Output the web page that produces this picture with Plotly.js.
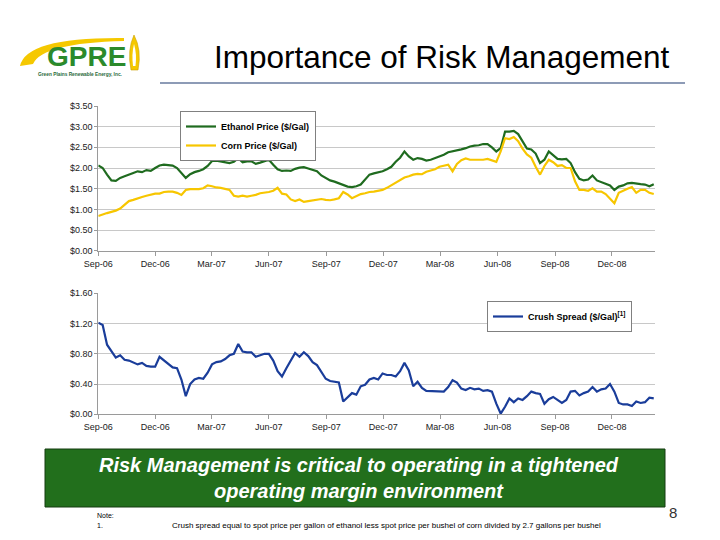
<!DOCTYPE html>
<html>
<head>
<meta charset="utf-8">
<script src="https://cdn.plot.ly/plotly-3.0.1.min.js"></script>
<style>html,body{margin:0;padding:0;background:#fff}#chart{width:720px;height:540px}</style>
</head>
<body>
<div id="chart"></div>
<script>
// ---- data (weekly readings) ----
const weeks = [
'2006-09-01','2006-09-08','2006-09-15','2006-09-22','2006-09-29','2006-10-06','2006-10-13','2006-10-20','2006-10-27','2006-11-03','2006-11-10','2006-11-17','2006-11-24','2006-12-01','2006-12-08','2006-12-15','2006-12-22','2006-12-29',
'2007-01-05','2007-01-12','2007-01-19','2007-01-26','2007-02-02','2007-02-09','2007-02-16','2007-02-23','2007-03-02','2007-03-09','2007-03-16','2007-03-23','2007-03-30','2007-04-06','2007-04-13','2007-04-20','2007-04-27','2007-05-04','2007-05-11','2007-05-18','2007-05-25','2007-06-01','2007-06-08','2007-06-15','2007-06-22','2007-06-29','2007-07-06','2007-07-13','2007-07-20','2007-07-27','2007-08-03','2007-08-10','2007-08-17','2007-08-24','2007-08-31','2007-09-07','2007-09-14','2007-09-21','2007-09-28','2007-10-05','2007-10-12','2007-10-19','2007-10-26','2007-11-02','2007-11-09','2007-11-16','2007-11-23','2007-11-30','2007-12-07','2007-12-14','2007-12-21','2007-12-28',
'2008-01-04','2008-01-11','2008-01-18','2008-01-25','2008-02-01','2008-02-08','2008-02-15','2008-02-22','2008-02-29','2008-03-07','2008-03-14','2008-03-21','2008-03-28','2008-04-04','2008-04-11','2008-04-18','2008-04-25','2008-05-02','2008-05-09','2008-05-16','2008-05-23','2008-05-30','2008-06-06','2008-06-13','2008-06-20','2008-06-27','2008-07-04','2008-07-11','2008-07-18','2008-07-25','2008-08-01','2008-08-08','2008-08-15','2008-08-22','2008-08-29','2008-09-05','2008-09-12','2008-09-19','2008-09-26','2008-10-03','2008-10-10','2008-10-17','2008-10-24','2008-10-31','2008-11-07','2008-11-14','2008-11-21','2008-11-28','2008-12-05','2008-12-12','2008-12-19','2008-12-26',
'2009-01-02','2009-01-09','2009-01-16','2009-01-23','2009-01-30','2009-02-06'
];

const ethanol = [
2.06,2.00,1.84,1.70,1.69,1.76,1.80,1.85,1.88,1.92,1.90,1.95,1.93,2.00,2.06,2.08,2.07,2.06,
2.00,1.88,1.76,1.85,1.90,1.93,1.97,2.05,2.17,2.18,2.16,2.15,2.12,2.15,2.24,2.14,2.16,2.16,2.10,2.13,2.16,2.20,2.08,1.97,1.93,
1.94,1.93,1.98,2.01,2.02,1.99,1.95,1.92,1.82,1.75,1.70,1.67,1.63,1.58,1.55,1.54,1.56,1.60,1.72,1.84,1.87,1.89,1.92,1.97,2.03,2.15,2.25,2.40,2.28,2.20,2.24,2.22,2.18,2.20,2.24,2.28,2.32,2.38,2.40,2.42,2.45,2.48,2.52,
2.54,2.55,2.58,2.58,2.50,2.40,2.48,2.88,2.88,2.90,2.82,2.63,2.47,2.45,2.35,2.12,2.20,2.40,2.30,2.22,2.21,2.22,2.12,1.90,1.74,1.70,1.72,1.82,1.70,1.66,1.63,1.58,1.47,1.55,1.58,1.63,1.64,1.62,1.61,1.60,1.56,1.61
];

const corn = [
0.84,0.88,0.91,0.94,0.97,1.02,1.10,1.20,1.23,1.27,1.30,1.33,1.36,1.38,1.38,1.42,1.43,1.43,
1.40,1.35,1.47,1.49,1.49,1.49,1.51,1.58,1.56,1.53,1.52,1.50,1.47,1.33,1.31,1.33,1.31,1.33,1.35,1.39,1.40,1.42,1.45,1.52,1.38,
1.36,1.24,1.20,1.24,1.18,1.20,1.22,1.24,1.25,1.23,1.22,1.24,1.27,1.42,1.36,1.27,1.33,1.37,1.39,1.42,1.43,1.45,1.47,1.52,1.58,1.66,1.72,1.77,1.80,1.84,1.86,1.85,1.91,1.94,1.97,2.03,2.06,2.08,1.92,2.10,2.19,2.23,2.20,
2.20,2.19,2.20,2.22,2.18,2.15,2.40,2.72,2.70,2.75,2.65,2.47,2.33,2.25,2.03,1.84,2.05,2.20,2.14,2.05,2.07,2.00,2.00,1.68,1.47,1.47,1.45,1.51,1.43,1.43,1.37,1.25,1.15,1.40,1.46,1.50,1.54,1.40,1.47,1.47,1.40,1.37
];

const crush = [
1.21,1.18,0.92,0.83,0.75,0.78,0.72,0.71,0.69,0.66,0.68,0.64,0.63,0.63,0.76,0.71,0.66,0.62,0.61,0.46,0.24,0.40,0.46,0.48,0.47,0.55,0.66,0.69,0.70,0.73,0.78,0.80,0.93,0.83,0.82,0.82,0.76,0.78,0.80,0.80,0.71,0.57,0.50,
0.61,0.72,0.81,0.76,0.82,0.77,0.69,0.65,0.56,0.47,0.44,0.43,0.42,0.17,0.22,0.28,0.26,0.37,0.39,0.46,0.48,0.46,0.54,0.52,0.52,0.50,0.57,0.68,0.58,0.37,0.43,0.35,0.31,0.31,0.31,0.31,0.30,0.36,0.45,0.42,0.34,0.32,0.35,
0.33,0.34,0.31,0.32,0.30,0.14,0.01,0.10,0.21,0.16,0.21,0.19,0.24,0.30,0.28,0.27,0.14,0.20,0.23,0.19,0.15,0.19,0.30,0.31,0.25,0.28,0.30,0.36,0.30,0.33,0.34,0.40,0.30,0.15,0.13,0.13,0.11,0.17,0.15,0.16,0.22,0.21
];

const tickDates = ['2006-09-01','2006-12-01','2007-03-01','2007-06-01','2007-09-01','2007-12-01','2008-03-01','2008-06-01','2008-09-01','2008-12-01'];
const tickLabels = ['Sep-06','Dec-06','Mar-07','Jun-07','Sep-07','Dec-07','Mar-08','Jun-08','Sep-08','Dec-08'];
const seriesNames = ['Ethanol Price ($/Gal)','Corn Price ($/Gal)','Crush Spread ($/Gal)<sup>[1]</sup>'];

// ---- helpers: pixel -> paper (figure has zero margins) ----
const W = 720, H = 540;
const px = x => x / W;
const py = y => 1 - y / H;
const FONT = 'Liberation Sans, Arial, sans-serif';

const traces = [
  {x: weeks, y: ethanol, name: seriesNames[0], type: 'scatter', mode: 'lines',
   line: {color: '#1f6b1f', width: 2.2}, xaxis: 'x', yaxis: 'y', legend: 'legend'},
  {x: weeks, y: corn, name: seriesNames[1], type: 'scatter', mode: 'lines',
   line: {color: '#f7c600', width: 2.2}, xaxis: 'x', yaxis: 'y', legend: 'legend'},
  {x: weeks, y: crush, name: seriesNames[2], type: 'scatter', mode: 'lines',
   line: {color: '#1a3d9a', width: 2.2}, xaxis: 'x2', yaxis: 'y2', legend: 'legend2'}
];

const xCommon = {
  type: 'date', domain: [px(98.3), px(655)], range: ['2006-09-01', '2009-02-08'],
  tickmode: 'array', tickvals: tickDates, ticktext: tickLabels,
  ticks: 'outside', ticklen: 4, tickcolor: '#9a9a9a', showline: true, linecolor: '#9a9a9a', linewidth: 1,
  showgrid: false, zeroline: false, tickfont: {family: FONT, size: 9, color: '#222'}
};
const yCommon = {
  tickprefix: '$', tickformat: '.2f', showgrid: true, gridcolor: '#c8c8c8', gridwidth: 1,
  showline: true, linecolor: '#9a9a9a', ticks: 'outside', ticklen: 3, tickcolor: '#9a9a9a',
  zeroline: false, tickfont: {family: FONT, size: 9, color: '#222'}
};

const layout = {
  width: W, height: H, margin: {l: 0, r: 0, t: 0, b: 0},
  paper_bgcolor: '#fff', plot_bgcolor: '#fff', showlegend: true,
  xaxis: Object.assign({}, xCommon, {anchor: 'y'}),
  xaxis2: Object.assign({}, xCommon, {anchor: 'y2'}),
  yaxis: Object.assign({}, yCommon, {domain: [py(250.7), py(106)], range: [0, 3.5], dtick: 0.5, anchor: 'x'}),
  yaxis2: Object.assign({}, yCommon, {domain: [py(414.3), py(293.3)], range: [0, 1.6], dtick: 0.4, anchor: 'x2'}),
  legend: {x: px(180), y: py(111), xanchor: 'left', yanchor: 'top', bgcolor: '#fff',
    bordercolor: '#808080', borderwidth: 1, itemwidth: 30, tracegroupgap: 0,
    entrywidth: 118, entrywidthmode: 'pixels',
    font: {family: FONT, size: 9, color: '#000', weight: 'bold'}},
  legend2: {x: px(487), y: py(301), xanchor: 'left', yanchor: 'top', bgcolor: '#fff',
    bordercolor: '#808080', borderwidth: 1, itemwidth: 30,
    entrywidth: 120, entrywidthmode: 'pixels',
    font: {family: FONT, size: 9, color: '#000', weight: 'bold'}},
  shapes: [
    // title rule
    {type: 'line', xref: 'paper', yref: 'paper', x0: px(160), x1: px(685), y0: py(83), y1: py(83),
     line: {color: '#8d9bb6', width: 2}},
    // logo swoosh
    {type: 'path', xref: 'paper', yref: 'paper', fillcolor: '#f5c800', line: {width: 0},
     path: `M ${px(20)},${py(66)} Q ${px(26)},${py(37)} ${px(124)},${py(38)} L ${px(124)},${py(41)} Q ${px(42)},${py(43)} ${px(33)},${py(64)} Z`},
    // logo flame
    {type: 'path', xref: 'paper', yref: 'paper', fillcolor: '#f5c800', line: {color: '#c9a000', width: 0.6},
     path: `M ${px(134)},${py(35)} Q ${px(142)},${py(50)} ${px(138)},${py(70)} L ${px(131)},${py(70)} Q ${px(127)},${py(50)} ${px(134)},${py(35)} Z`},
    {type: 'path', xref: 'paper', yref: 'paper', fillcolor: '#ffffff', line: {width: 0},
     path: `M ${px(134)},${py(44)} Q ${px(137)},${py(54)} ${px(135.5)},${py(66)} L ${px(133)},${py(66)} Q ${px(131.5)},${py(54)} ${px(134)},${py(44)} Z`},
    // green message box
    {type: 'rect', xref: 'paper', yref: 'paper', x0: px(45), x1: px(665), y0: py(507), y1: py(449),
     fillcolor: '#226f1c', line: {color: '#143d10', width: 1}}
  ],
  annotations: [
    {xref: 'paper', yref: 'paper', x: px(671), y: py(57), xanchor: 'right', yanchor: 'middle', showarrow: false,
     text: 'Importance of Risk Management', font: {family: FONT, size: 31.5, color: '#000'}},
    {xref: 'paper', yref: 'paper', x: px(86), y: py(57), xanchor: 'center', yanchor: 'middle', showarrow: false,
     text: '<b>GPRE</b>', font: {family: FONT, size: 28, color: '#2b8a2b'}},
    {xref: 'paper', yref: 'paper', x: px(80), y: py(74), xanchor: 'center', yanchor: 'middle', showarrow: false,
     text: '<b>Green Plains Renewable Energy, Inc.</b>', font: {family: FONT, size: 4.8, color: '#2a6a3a'}},
    {xref: 'paper', yref: 'paper', x: px(359), y: py(478), xanchor: 'center', yanchor: 'middle', showarrow: false,
     text: '<b><i>Risk Management is critical to operating in a tightened<br>operating margin environment</i></b>',
     font: {family: FONT, size: 20, color: '#fff'}},
    {xref: 'paper', yref: 'paper', x: px(95), y: py(515), xanchor: 'left', yanchor: 'middle', showarrow: false,
     text: 'Note:', font: {family: FONT, size: 7, color: '#000'}},
    {xref: 'paper', yref: 'paper', x: px(95), y: py(525), xanchor: 'left', yanchor: 'middle', showarrow: false,
     text: '1.', font: {family: FONT, size: 7, color: '#000'}},
    {xref: 'paper', yref: 'paper', x: px(170), y: py(525), xanchor: 'left', yanchor: 'middle', showarrow: false,
     text: 'Crush spread equal to spot price per gallon of ethanol less spot price per bushel of corn divided by 2.7 gallons per bushel',
     font: {family: FONT, size: 8, color: '#000'}},
    {xref: 'paper', yref: 'paper', x: px(673), y: py(512), xanchor: 'center', yanchor: 'middle', showarrow: false,
     text: '8', font: {family: FONT, size: 15, color: '#333'}}
  ]
};

Plotly.newPlot('chart', traces, layout, {staticPlot: true, displayModeBar: false});
</script>
</body>
</html>
